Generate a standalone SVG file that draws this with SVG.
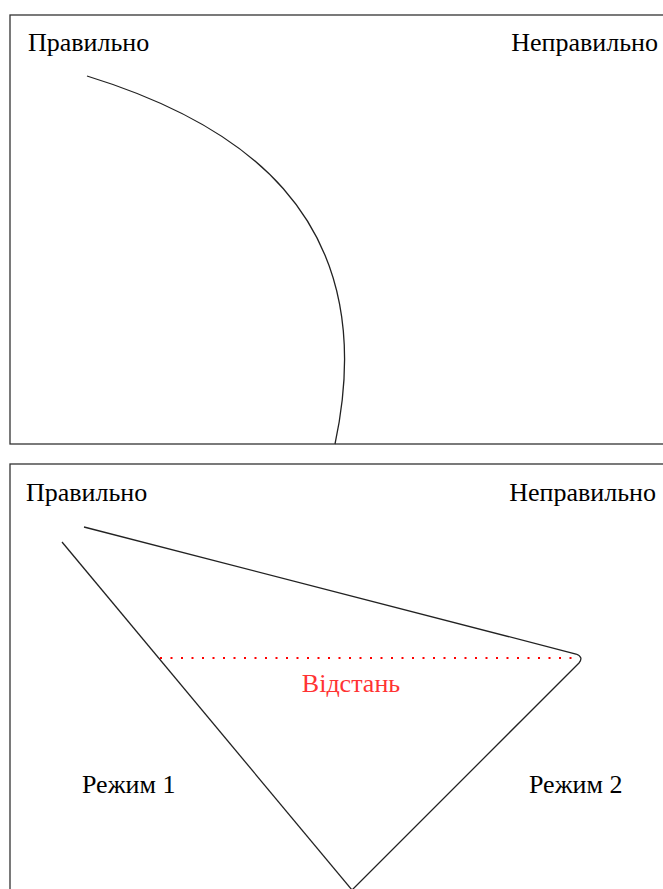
<svg xmlns="http://www.w3.org/2000/svg" width="663" height="889" viewBox="0 0 663 889">
<style>
.frame{fill:#fff;stroke:#333;stroke-width:1.3}
.ln{fill:none;stroke:#222;stroke-width:1.3}
.t{font-family:'Liberation Serif','Times New Roman','DejaVu Serif',serif;font-size:26px;fill:#000}
.r{font-family:'Liberation Serif','Times New Roman','DejaVu Serif',serif;font-size:26px;fill:#f33}
</style>
<rect width="663" height="889" fill="#fff"/>
<g id="panel-top">
<rect class="frame" x="10" y="15" width="660" height="429"/>
<text class="t" x="28" y="51">Правильно</text>
<text class="t" x="658" y="51" text-anchor="end">Неправильно</text>
<path class="ln" d="M87,76 C230,120 385,210 335,444"/>
</g>
<g id="panel-bottom">
<rect class="frame" x="10" y="464" width="660" height="440"/>
<text class="t" x="26" y="501">Правильно</text>
<text class="t" x="656" y="501" text-anchor="end">Неправильно</text>
<text class="t" x="82" y="793">Режим 1</text>
<text class="t" x="529" y="793">Режим 2</text>
<text class="r" x="351" y="692" text-anchor="middle">Відстань</text>
</g>
<g id="connectors">
<path class="ln" d="M84,527 L576,654 Q584,657 579,663 L352,890"/>
<path class="ln" d="M62,542 L352,890"/>
<line x1="160" y1="658" x2="580" y2="658" stroke="#f00" stroke-width="2" stroke-dasharray="2,8.5"/>
</g>
</svg>
